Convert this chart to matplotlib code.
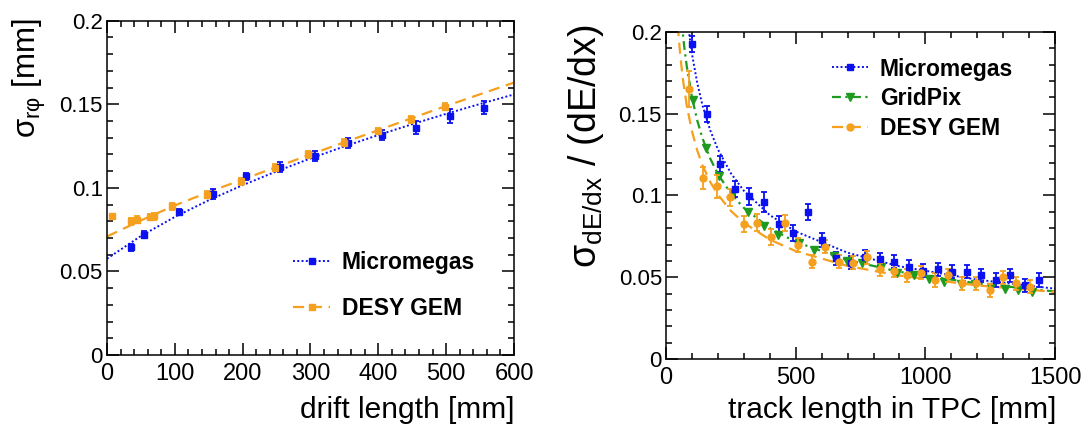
import matplotlib
matplotlib.use("Agg")
import matplotlib.pyplot as plt
from matplotlib.lines import Line2D
from matplotlib.ticker import MultipleLocator, FuncFormatter

plt.rcParams["font.family"] = ["Liberation Sans", "DejaVu Sans"]
plt.rcParams["mathtext.fontset"] = "custom"
plt.rcParams["mathtext.rm"] = "Liberation Sans"
plt.rcParams["mathtext.it"] = "Liberation Sans"

BLUE = "#0a10f0"
ORANGE = "#f5a01e"
GREEN = "#1e9a1e"

# ---- left panel: point resolution vs drift length ----
mm_x = [35, 54, 106, 156, 205, 255, 306, 355, 405, 456, 506, 556]
mm_y = [0.0645, 0.0719, 0.0855, 0.0964, 0.107, 0.1124, 0.119, 0.1267, 0.1317, 0.136, 0.143, 0.148]
mm_err = [0.002, 0.002, 0.002, 0.003, 0.002, 0.003, 0.003, 0.003, 0.003, 0.004, 0.004, 0.004]

gem_x = [7, 35, 45, 63, 70, 96, 147, 197, 247, 297, 349, 399, 448, 499]
gem_y = [0.083, 0.080, 0.081, 0.0825, 0.083, 0.089, 0.096, 0.104, 0.112, 0.120, 0.127, 0.134, 0.141, 0.1486]
gem_err = [0.001, 0.002, 0.002, 0.002, 0.002, 0.002, 0.002, 0.002, 0.002, 0.002, 0.002, 0.002, 0.002, 0.002]

fit_x = [0, 50, 100, 150, 200, 250, 300, 350, 400, 450, 500, 550, 600]
mm_fit = [0.0576, 0.0712, 0.0826, 0.0926, 0.1016, 0.1099, 0.1176, 0.1248, 0.1316, 0.1381, 0.1443, 0.1502, 0.1559]
gem_fit = [0.0709, 0.0805, 0.0895, 0.0975, 0.1050, 0.1125, 0.1200, 0.1273, 0.1345, 0.1418, 0.1490, 0.1560, 0.1630]

# ---- right panel: dE/dx resolution vs track length ----
mm2_x = [100, 156, 209, 266, 321, 379, 434, 489, 546, 601, 657, 714, 769, 824, 879,
         935, 991, 1047, 1103, 1159, 1216, 1271, 1327, 1384, 1439]
mm2_y = [0.1927, 0.1500, 0.1194, 0.1039, 0.0994, 0.0959, 0.0826, 0.0769, 0.090, 0.0728,
         0.0616, 0.0589, 0.0626, 0.0609, 0.0595, 0.0564, 0.054, 0.0548, 0.0534, 0.0534,
         0.0513, 0.0483, 0.0513, 0.0452, 0.0483]
mm2_err = [0.005, 0.005, 0.005, 0.005, 0.005, 0.006, 0.005, 0.005, 0.005, 0.004,
           0.004, 0.004, 0.004, 0.004, 0.004, 0.004, 0.004, 0.004, 0.004, 0.004,
           0.004, 0.004, 0.004, 0.004, 0.004]

gp_x = [104, 155, 204, 258, 317, 377, 433, 511, 569, 647, 698, 756, 828, 892, 957,
        1015, 1073, 1138, 1190, 1254, 1306, 1358, 1410]
gp_y = [0.1586, 0.129, 0.1117, 0.1014, 0.0896, 0.0814, 0.0759, 0.0708, 0.0667, 0.063,
        0.0601, 0.0585, 0.0564, 0.0524, 0.0513, 0.0487, 0.0472, 0.0458, 0.0458, 0.0442,
        0.0431, 0.0421, 0.0411]

gem2_x = [88, 142, 195, 247, 300, 352, 405, 457, 508, 563, 614, 668, 719, 773, 825,
          879, 931, 983, 1037, 1086, 1142, 1194, 1248, 1300, 1351, 1403]
gem2_y = [0.165, 0.1107, 0.1055, 0.0988, 0.0826, 0.0834, 0.0748, 0.083, 0.0697, 0.0595,
          0.0687, 0.0595, 0.0589, 0.0622, 0.0548, 0.054, 0.0513, 0.0528, 0.0483, 0.0513,
          0.0462, 0.0462, 0.0421, 0.0499, 0.0462, 0.0442]
gem2_err = [0.011, 0.007, 0.007, 0.005, 0.005, 0.005, 0.005, 0.005, 0.004, 0.004,
            0.004, 0.004, 0.004, 0.004, 0.004, 0.004, 0.004, 0.004, 0.004, 0.004,
            0.004, 0.004, 0.004, 0.004, 0.004, 0.004]

mm2_fit_x = [85, 100, 120, 140, 170, 200, 250, 300, 400, 500, 700, 900, 1200, 1500]
mm2_fit_y = [0.2038, 0.1866, 0.1691, 0.1555, 0.1400, 0.1282, 0.1136, 0.1029, 0.0880,
             0.0780, 0.0650, 0.0567, 0.0485, 0.0430]
gp_fit_x = [60, 70, 80, 100, 120, 140, 170, 200, 250, 300, 400, 500, 700, 900, 1200, 1500]
gp_fit_y = [0.2066, 0.1912, 0.1789, 0.1600, 0.1461, 0.1352, 0.1227, 0.1131, 0.1012,
            0.0924, 0.0800, 0.0716, 0.0605, 0.0533, 0.0462, 0.0413]
gem2_fit_x = [45, 55, 65, 80, 100, 120, 140, 170, 200, 250, 300, 400, 500, 700, 900, 1200, 1500]
gem2_fit_y = [0.2043, 0.1854, 0.1711, 0.1549, 0.1393, 0.1277, 0.1187, 0.1084, 0.1005,
              0.0906, 0.0833, 0.0730, 0.0660, 0.0569, 0.0510, 0.0450, 0.0410]

DOT = (0, (1, 1.2))
DASH = (0, (5, 3))
DASHDOT = (0, (4, 2, 1, 2))


def style_axis(ax, xmax, xmajor, xminor):
    ax.set_xlim(0, xmax)
    ax.set_ylim(0, 0.2)
    ax.xaxis.set_major_locator(MultipleLocator(xmajor))
    ax.xaxis.set_minor_locator(MultipleLocator(xminor))
    ax.yaxis.set_major_locator(MultipleLocator(0.05))
    ax.yaxis.set_minor_locator(MultipleLocator(0.01))
    ax.yaxis.set_major_formatter(FuncFormatter(lambda v, p: "%g" % round(v, 3)))
    ax.tick_params(which="both", direction="in", top=True, right=True, width=1.1)
    ax.tick_params(which="major", length=8.5)
    ax.tick_params(which="minor", length=4.5)
    ax.tick_params(axis="x", labelsize=17, pad=6)
    ax.tick_params(axis="y", labelsize=16, pad=3)
    for sp in ax.spines.values():
        sp.set_linewidth(1.1)


def points(ax, x, y, err, color, marker, ms):
    ax.errorbar(x, y, yerr=err, fmt=marker, color=color, ms=ms, capsize=2.5,
                elinewidth=1.3, capthick=1.3, ls="none", zorder=3)


fig = plt.figure(figsize=(10.86, 4.37), dpi=100)
ax0 = fig.add_axes([0.0985, 0.1876, 0.3748, 0.7650])
ax1 = fig.add_axes([0.6133, 0.1785, 0.3582, 0.7483])

# left
ax0.plot(fit_x, mm_fit, color=BLUE, ls=DOT, lw=1.4)
ax0.plot(fit_x, gem_fit, color=ORANGE, ls=DASH, lw=1.6)
points(ax0, mm_x, mm_y, mm_err, BLUE, "s", 5)
points(ax0, gem_x, gem_y, gem_err, ORANGE, "s", 5)
style_axis(ax0, 600, 100, 20)

leg0 = [
    Line2D([0], [0], color=BLUE, ls=DOT, lw=1.4, marker="s", ms=5, label="Micromegas"),
    Line2D([0], [0], color=ORANGE, ls=DASH, lw=1.6, marker="s", ms=5, label="DESY GEM"),
]
ax0.legend(handles=leg0, loc="upper left", bbox_to_anchor=(0.43, 0.345), frameon=False,
           borderpad=0, handlelength=1.6, handletextpad=0.5, labelspacing=1.0,
           prop={"family": "Liberation Sans", "weight": "bold", "size": 16.5})

# right
ax1.plot(mm2_fit_x, mm2_fit_y, color=BLUE, ls=DOT, lw=1.4)
ax1.plot(gp_fit_x, gp_fit_y, color=GREEN, ls=DASHDOT, lw=1.6)
ax1.plot(gem2_fit_x, gem2_fit_y, color=ORANGE, ls=DASH, lw=1.6)
points(ax1, mm2_x, mm2_y, mm2_err, BLUE, "s", 5)
ax1.plot(gp_x, gp_y, "v", color=GREEN, ms=6, ls="none", zorder=3)
points(ax1, gem2_x, gem2_y, gem2_err, ORANGE, "o", 5)
style_axis(ax1, 1500, 500, 100)

leg1 = [
    Line2D([0], [0], color=BLUE, ls=DOT, lw=1.4, marker="s", ms=5, label="Micromegas"),
    Line2D([0], [0], color=GREEN, ls=DASHDOT, lw=1.6, marker="v", ms=6, label="GridPix"),
    Line2D([0], [0], color=ORANGE, ls=DASH, lw=1.6, marker="o", ms=5, label="DESY GEM"),
]
ax1.legend(handles=leg1, loc="upper left", bbox_to_anchor=(0.396, 0.957), frameon=False,
           borderpad=0, handlelength=1.6, handletextpad=0.5, labelspacing=0.3,
           prop={"family": "Liberation Sans", "weight": "bold", "size": 16.5})

# axis titles
fig.text(515 / 1086, 0.062, "drift length [mm]", ha="right", va="center", fontsize=21.5)
fig.text(1056 / 1086, 0.062, "track length in TPC [mm]", ha="right", va="center",
         fontsize=21.5)
fig.text(29 / 1086, 0.959, r"$\mathrm{\sigma_{r\varphi}}$ [mm]", ha="center", va="top",
         rotation=90, fontsize=22.5)
fig.text(586 / 1086, 0.943, r"$\mathrm{\sigma_{dE/dx}}$ / (dE/dx)", ha="center", va="top",
         rotation=90, fontsize=27)

fig.savefig("out.png", dpi=100)
